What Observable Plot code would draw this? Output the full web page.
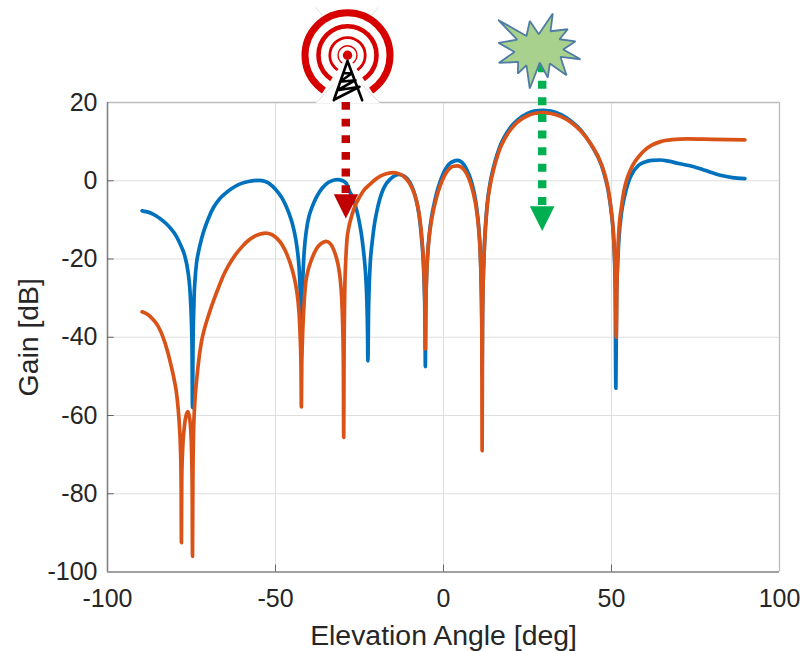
<!DOCTYPE html>
<html><head><meta charset="utf-8">
<style>html,body{margin:0;padding:0;background:#fff}svg{display:block}</style>
<script src="https://cdn.jsdelivr.net/npm/d3@7"></script>
<script src="https://cdn.jsdelivr.net/npm/@observablehq/plot@0.6"></script>
</head><body><div id="chart"></div>
<script>
const xTicks=[-100,-50,0,50,100];
const yTicks=[-100,-80,-60,-40,-20,0,20];
const blueAngle=[-89.7,-88.5,-87,-85.5,-84,-82.5,-81,-79.5,-78,-77,-76,-75.5,-75.2,-75,-74.85,-74.7,
 -74.55,-74.4,-74.2,-74,-73.5,-73,-72,-71,-70,-68.5,-67,-65,-63,-61,-59,-57,-55,
 -53,-51,-50,-49,-48,-47,-46,-45,-44,-43.5,-43,-42.7,-42.5,-42.3,
 -42.1,-41.9,-41.6,-41.2,-40.6,-40,-39,-38,-37,-36,-35,-33.5,-31.6,
 -30,-29,-28,-27,-26,-25,-24.5,-24,-23.5,-23.1,-22.8,-22.6,-22.5,
 -22.3,-22.1,-21.8,-21.2,-20.5,-20,-19,-18,-17,-16,-15,-13.4,-12,-11,-10,-9,-8,-7.5,-7,-6.5,-6,-5.7,-5.5,-5.4,
 -5.3,-5.1,-4.8,-4.2,-3.5,-3,-2,-1,0,1,2,3,4.1,5,6,7,8,9,9.5,10,10.5,10.9,11.2,11.4,11.5,
 11.6,11.8,12.1,12.5,13,14,15,16,17,18,20,22,25,27,29.4,32,35,38,41,44,47,48,49,50,50.5,50.9,51.1,51.3,
 51.5,51.8,52.2,53,54,55,56,58,60,62,64.6,67,70,74.5,78,82.4,86,89.7];
const blueGain=[-7.7,-7.9,-8.3,-9,-9.9,-11,-12.4,-14.2,-16.9,-19.2,-23.5,-27.5,-32,-36.5,-42,-58,
 -42,-35,-29,-26,-21,-18.5,-14.8,-12,-9.7,-6.9,-5,-3.3,-2,-1,-0.4,-0.05,0.1,
 -0.2,-1.3,-2.2,-3.2,-4.5,-6.2,-8.3,-10.9,-14.8,-17.7,-22,-27,-33,-45,
 -33,-26,-20,-15.5,-11.5,-9,-6.5,-4.5,-3,-1.8,-0.9,-0.1,0.3,
 0,-0.6,-2.6,-4.4,-7,-10.8,-13.3,-16.5,-20.5,-25,-31,-39,-46,
 -33,-26.5,-21,-15.5,-10.8,-8.5,-4.8,-2.3,-0.7,0.3,1,1.6,1.3,0.7,-0.4,-2.3,-5.3,-7.5,-10.6,-15,-21,-28,-37,-47.5,
 -36,-26,-20,-13.5,-9,-6.8,-3,-0.2,2,3.5,4.5,5,5.2,5,4.2,2.7,0.6,-2.6,-4.8,-7.8,-12,-17.5,-25,-35,-50,
 -35,-26,-18,-11.5,-6,0,3.8,6.8,9.2,11,13.7,15.5,17.2,17.8,18,17.8,16.9,15.2,12.8,9.1,4,1.2,-2.5,-8.5,-13,-20,-28,-53,
 -30,-22,-15,-8,-3.6,-0.4,1.6,3.9,4.8,5.2,5.3,5,4.4,3.6,2.6,1.4,0.8,0.55];
const orangeAngle=[-89.7,-88,-86.5,-85,-83.5,-82,-81,-80,-79.5,-79,-78.6,-78.3,-78.1,-78,
 -77.9,-77.6,-77.2,-76.7,-76.1,-75.6,-75.2,-74.95,-74.8,-74.7,
 -74.6,-74.4,-74.1,-73.8,-73.3,-73,-72,-71,-70,-69,-68,-67,-65.5,-64,-62,-60,-58,-56,-54,-53,-51,-49.5,-48,-46.5,-45,-44,-43.3,-42.9,-42.6,-42.4,-42.3,
 -42.2,-42,-41.6,-41,-40.5,-39.5,-38.6,-37.5,-36.3,-34.9,-33.8,-32.7,-32,-31.3,-30.7,-30.3,-30,-29.8,-29.7,
 -29.6,-29.4,-29.1,-28.7,-28.2,-27.5,-26.8,-26,-25,-23.5,-22,-20,-18.8,-17,-14.9,-13,-12,-11,-10,-9,-8,-7.5,-7,-6.5,-6,-5.7,-5.5,-5.4,
 -5.3,-5.1,-4.8,-4.2,-3.5,-3,-2,-1,0,1,2,3,4.1,5,6,7,8,9,9.5,10,10.5,10.9,11.2,11.4,11.5,
 11.6,11.8,12.1,12.5,13,14,15,16,17,18,20,22,25,27,29.4,32,35,38,41,44,47,48,49,50,50.5,50.9,51.2,51.4,
 51.6,51.9,52.2,53,53.7,54.5,55.7,57,58.5,60,62,64.6,68,72.5,80,89.7];
const orangeGain=[-33.5,-34.2,-35.4,-37.1,-39.9,-44,-47.5,-51.5,-54,-58,-62.5,-68,-76,-92.5,
 -76,-68,-63.5,-60.3,-59,-60.5,-64,-70,-78,-96,
 -78,-65,-58,-54,-49.5,-47,-41,-37.4,-34.6,-32,-29.6,-27.4,-24.2,-21.7,-19,-16.9,-15.2,-14.1,-13.5,-13.4,-13.8,-14.8,-16.4,-19,-22.8,-26.5,-30.7,-35,-41,-48,-57.8,
 -48,-41,-33,-26,-23.6,-20.7,-18.7,-17,-16,-15.5,-16,-17.6,-19.3,-21.8,-25.4,-30,-37,-47,-65.6,
 -45,-29,-20.5,-14.8,-12,-9.5,-7.5,-5.8,-4.2,-2.2,-1,0.5,1.2,1.8,2.1,1.7,1.2,0.4,-0.8,-2.6,-5.3,-7.3,-10,-14,-20,-26,-33,-43,
 -33,-26,-20,-14,-9.8,-7.6,-4,-1.3,0.8,2.3,3.3,3.7,3.8,3.6,2.9,1.6,-0.5,-3.6,-5.7,-8.6,-12.6,-18,-26,-38,-69,
 -38,-26,-18.5,-12,-6.5,-0.6,3.2,6.2,8.6,10.4,13.1,15,16.6,17.2,17.4,17.2,16.4,14.9,12.6,9.2,4.2,1.6,-2,-8,-12.5,-19,-27,-40,
 -27,-18,-12.7,-6.5,-2.6,0.2,2.9,4.9,6.6,7.9,9.1,10,10.5,10.7,10.6,10.45];
const starX=[16.46,21.93,16.28,24.70,25.68,28.36,32.53,31.85,36.99,34.52,39.29,35.63,40.77,34.82,36.61,31.64,31.04,28.66,25.68,24.70,22.11,22.23,16.46,21.13,16.46];
const starY=[35.22,36.09,41.10,37.01,40.84,37.44,42.73,38.21,38.72,36.17,35.65,33.53,31.05,31.64,26.96,29.96,26.38,30.21,23.57,29.52,27.40,30.36,30.11,32.92,35.22];
const wedgeX=[-28.57,-38.1,-19.05,-28.57];
const wedgeY=[32.08,19.8,19.8,32.08];
const towerX=[-32.65,-28.57,-24.2,-27.23,-29.82,-27.23,-30.8,-26.19,-31.55,-25,-32.29];
const towerY=[20.58,30.62,20.58,27.48,27.48,27.48,25.3,25.69,23.13,24.03,20.83];
const ringCenter={x:-28.57,y:32.08};
const ringRadii=[42.5,29,17.7,9.5];
const ringWidths=[7,4.6,2.8,1.4];
const faint=[[-37.8,20,-32.74,24.66],[-19.05,20,-24.4,24.66],[-38.1,44.3,-36,42.3],[-19.35,44.3,-21.4,42.3]];
const redArrow={x:-29.08,from:20,to:-3.45,tip:-9.66,left:-32.65,right:-25.39};
const greenArrow={x:29.38,from:29.67,to:-6.52,tip:-12.83,left:25.68,right:33.04};

const pts=(xs,ys)=>xs.map((x,i)=>({x,y:ys[i]}));
const tickColor="#262626";
function arrow(a,color,dash){
  return [
    Plot.ruleX([a.x],{y1:a.from,y2:a.to,stroke:color,strokeWidth:8.4,strokeDasharray:dash}),
    Plot.line(pts([a.left,a.right,a.x,a.left],[a.to,a.to,a.tip,a.to]),{x:"x",y:"y",fill:color,stroke:"none"})
  ];
}
const chart=Plot.plot({
  width:801,height:651,marginLeft:107,marginRight:22,marginTop:102,marginBottom:79.5,
  x:{domain:[-100,100]},y:{domain:[-100,20]},
  style:{fontFamily:"'Liberation Sans',Arial,sans-serif",background:"#fff",overflow:"visible"},
  marks:[
    Plot.ruleX(xTicks.slice(1,-1),{stroke:"#dfdfdf",strokeWidth:1}),
    Plot.ruleY(yTicks.slice(1,-1),{stroke:"#dfdfdf",strokeWidth:1}),
    Plot.ruleY([20],{stroke:"#bdbdbd",strokeWidth:1.3}),
    Plot.ruleX([100],{stroke:"#bdbdbd",strokeWidth:1.3}),
    Plot.ruleY([-100],{stroke:"#808080",strokeWidth:1.6}),
    Plot.ruleX([-100],{stroke:"#808080",strokeWidth:1.6}),
    Plot.ruleX(xTicks.slice(1,-1),{y1:-100,y2:-98.2,stroke:"#666",strokeWidth:1}),
    Plot.ruleY(yTicks.slice(1,-1),{x1:-100,x2:-98,stroke:"#666",strokeWidth:1}),
    Plot.axisX({ticks:xTicks,tickFormat:d=>String(d),tickSize:0,tickPadding:17,fontSize:25,color:tickColor,
      label:"Elevation Angle [deg]",labelAnchor:"center",labelArrow:"none",labelOffset:73}),
    Plot.axisY({ticks:yTicks,tickFormat:d=>String(d),tickSize:0,tickPadding:10,fontSize:25,color:tickColor,
      label:"Gain [dB]",labelAnchor:"center",labelArrow:"none",labelOffset:90}),
    Plot.line(pts(blueAngle,blueGain),{x:"x",y:"y",stroke:"#0072bd",strokeWidth:3.7,curve:"monotone-x"}),
    Plot.line(pts(orangeAngle,orangeGain),{x:"x",y:"y",stroke:"#d95319",strokeWidth:3.7,curve:"monotone-x"}),
    ...ringRadii.map((r,i)=>Plot.dot([ringCenter],{x:"x",y:"y",r,stroke:"#d60000",strokeWidth:ringWidths[i],fill:"none"})),
    Plot.line(pts(wedgeX,wedgeY),{x:"x",y:"y",fill:"#fff",stroke:"none"}),
    ...faint.map(f=>Plot.link([f],{x1:d=>d[0],y1:d=>d[1],x2:d=>d[2],y2:d=>d[3],stroke:"#dcdcdc",strokeWidth:1})),
    Plot.dot([ringCenter],{x:"x",y:"y",r:4.7,fill:"#d60000",stroke:"none"}),
    Plot.line(pts(towerX,towerY),{x:"x",y:"y",stroke:"#000",strokeWidth:2.6,curve:"linear"}),
    ...arrow(redArrow,"#c00000","7.8 8.85"),
    ...arrow(greenArrow,"#00b050","8 8.6"),
    Plot.line(pts(starX,starY),{x:"x",y:"y",fill:"#a9d18e",stroke:"#4f7ca3",strokeWidth:1.8,strokeLinejoin:"miter"})
  ]
});
document.getElementById("chart").append(chart);
chart.querySelectorAll("text").forEach(t=>{ if(/deg|dB/.test(t.textContent)) t.style.fontSize="28.4px"; });
</script></body></html>
